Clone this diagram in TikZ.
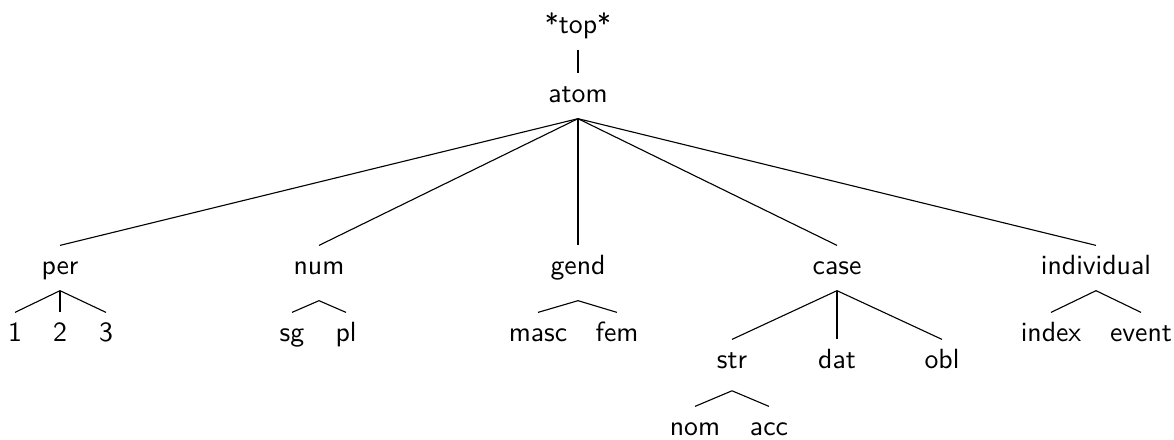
\documentclass[tikz,border=0pt]{standalone}
\usepackage{tikz}

\tikzset{
    typ/.style={font=\sffamily, anchor=base, inner xsep=0pt, inner ysep=3.1pt,
                text height=7pt, text depth=2.7pt},
    link/.style={thin}
}

\begin{document}
\begin{tikzpicture}[x=0.36pt, y=-0.36pt]

\useasboundingbox (0,0) rectangle (1174,439);

% Root and atom
\node[typ] (star) at (578, 33) {*top*};
\node[typ] (atom) at (578, 102) {atom};

% Second level
\node[typ] (per) at (60, 274) {per};
\node[typ] (num) at (319, 274) {num};
\node[typ] (gend) at (578, 274) {gend};
\node[typ] (case) at (837, 274) {case};
\node[typ] (indiv) at (1096, 274) {individual};

% Leaves
\node[typ] (one) at (15, 341) {1};
\node[typ] (two) at (60, 341) {2};
\node[typ] (three) at (106, 341) {3};
\node[typ] (sg) at (292, 341) {sg};
\node[typ] (pl) at (346, 341) {pl};
\node[typ] (masc) at (538, 341) {masc};
\node[typ] (fem) at (617, 341) {fem};
\node[typ] (index) at (1051, 341) {index};
\node[typ] (event) at (1141, 341) {event};

% Case subtree
\node[typ] (str) at (732, 368) {str};
\node[typ] (dat) at (837, 368) {dat};
\node[typ] (obl) at (942, 368) {obl};
\node[typ] (nom) at (695, 435) {nom};
\node[typ] (acc) at (769, 435) {acc};

% Forks that sit a little lower
\coordinate (numfork) at ([yshift=-3.6pt]num.south);
\coordinate (gendfork) at ([yshift=-3.6pt]gend.south);
\coordinate (strfork) at ([yshift=-2.2pt]str.south);

% Edges
\foreach \up/\kid in {star/atom, atom/per, atom/num, atom/gend, atom/case, atom/indiv,
    per/one, per/two, per/three, case/str, case/dat, case/obl,
    indiv/index, indiv/event} {
    \draw[link] (\up.south) -- (\kid.north);
}
\foreach \up/\kid in {numfork/sg, numfork/pl, gendfork/masc, gendfork/fem,
    strfork/nom, strfork/acc} {
    \draw[link] (\up) -- (\kid.north);
}

\end{tikzpicture}
\end{document}
